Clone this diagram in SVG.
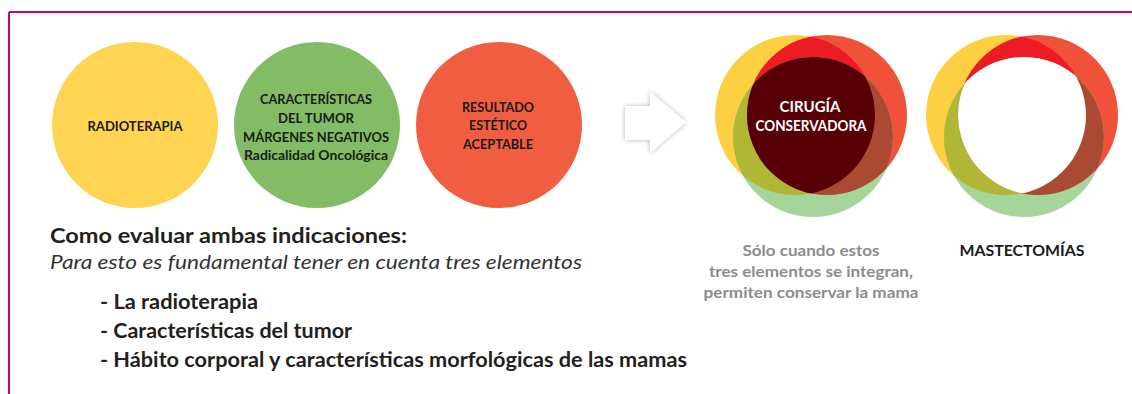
<svg xmlns="http://www.w3.org/2000/svg" width="1132" height="394" viewBox="0 0 1132 394">
<style>
.t{font-family:Lato,"Open Sans","Liberation Sans",sans-serif;font-weight:bold;text-anchor:middle;fill:#1a1a1a}
.c{font-size:14px}
.w{fill:#ffffff;font-size:15px}
.h{font-family:Lato,"Open Sans","Liberation Sans",sans-serif;fill:#231f20}
.b{font-size:20px;font-weight:bold}
.g{fill:#8c8c8c;font-size:16px}
</style>
<defs>
<filter id="sh" x="-30%" y="-30%" width="160%" height="160%">
<feGaussianBlur in="SourceAlpha" stdDeviation="2.5"/>
<feComponentTransfer><feFuncA type="linear" slope="0.3"/></feComponentTransfer>
<feMerge><feMergeNode/><feMergeNode in="SourceGraphic"/></feMerge>
</filter>
<clipPath id="clY1"><circle cx="795" cy="115" r="80"/></clipPath>
<clipPath id="clR1"><circle cx="827" cy="115" r="80"/></clipPath>
<clipPath id="clY2"><circle cx="1006" cy="115" r="80"/></clipPath>
<clipPath id="clR2"><circle cx="1038" cy="115" r="80"/></clipPath>
</defs>
<rect width="1132" height="394" fill="#ffffff"/>
<g id="frame" stroke="#c8086c" stroke-width="2" fill="none">
<line x1="9" y1="12" x2="1132" y2="12"/>
<line x1="9" y1="12" x2="9" y2="394"/>
</g>
<g id="node-radioterapia">
<circle cx="135" cy="125" r="83" fill="#fed452"/>
<text class="t c" x="135" y="131" textLength="95" lengthAdjust="spacingAndGlyphs">RADIOTERAPIA</text>
</g>
<g id="node-tumor">
<circle cx="317" cy="125" r="83" fill="#82bc65"/>
<text class="t c" x="316" y="104" textLength="112" lengthAdjust="spacingAndGlyphs">CARACTERÍSTICAS</text>
<text class="t c" x="316" y="123" textLength="76" lengthAdjust="spacingAndGlyphs">DEL TUMOR</text>
<text class="t c" x="316" y="142" textLength="146" lengthAdjust="spacingAndGlyphs">MÁRGENES NEGATIVOS</text>
<text class="t c" x="316" y="160" textLength="144" lengthAdjust="spacingAndGlyphs">Radicalidad Oncológica</text>
</g>
<g id="node-resultado">
<circle cx="499" cy="125" r="83" fill="#f15d41"/>
<text class="t c" x="498" y="112" textLength="72" lengthAdjust="spacingAndGlyphs">RESULTADO</text>
<text class="t c" x="498" y="130" textLength="58" lengthAdjust="spacingAndGlyphs">ESTÉTICO</text>
<text class="t c" x="498" y="149" textLength="70" lengthAdjust="spacingAndGlyphs">ACEPTABLE</text>
</g>
<g id="connectors">
<polygon points="625,106 650,106 650,92 686,122 650,153 650,140 625,140" fill="#ffffff" filter="url(#sh)"/>
</g>
<g id="node-cirugia">
<circle cx="795" cy="115" r="80" fill="#fdd043"/>
<circle cx="827" cy="115" r="80" fill="#f05239"/>
<circle cx="813" cy="137" r="80" fill="#a6d59b"/>
<circle cx="827" cy="115" r="80" fill="#ed1c24" clip-path="url(#clY1)"/>
<circle cx="813" cy="137" r="80" fill="#b0b734" clip-path="url(#clY1)"/>
<circle cx="813" cy="137" r="80" fill="#ab4a32" clip-path="url(#clR1)"/>
<g clip-path="url(#clY1)"><circle cx="813" cy="137" r="80" fill="#560006" clip-path="url(#clR1)"/></g>
<text class="t w" x="810" y="112" style="fill:#ffffff" textLength="61" lengthAdjust="spacingAndGlyphs">CIRUGÍA</text>
<text class="t w" x="811" y="131" style="fill:#ffffff" textLength="111" lengthAdjust="spacingAndGlyphs">CONSERVADORA</text>
<text class="t g" x="811" y="256" textLength="137" lengthAdjust="spacingAndGlyphs">Sólo cuando estos</text>
<text class="t g" x="811" y="277" textLength="204" lengthAdjust="spacingAndGlyphs">tres elementos se integran,</text>
<text class="t g" x="811" y="298" textLength="215" lengthAdjust="spacingAndGlyphs">permiten conservar la mama</text>
</g>
<g id="node-mastectomias">
<circle cx="1006" cy="115" r="80" fill="#fdd043"/>
<circle cx="1038" cy="115" r="80" fill="#f05239"/>
<circle cx="1024" cy="137" r="80" fill="#a6d59b"/>
<circle cx="1038" cy="115" r="80" fill="#ed1c24" clip-path="url(#clY2)"/>
<circle cx="1024" cy="137" r="80" fill="#b0b734" clip-path="url(#clY2)"/>
<circle cx="1024" cy="137" r="80" fill="#ab4a32" clip-path="url(#clR2)"/>
<g clip-path="url(#clY2)"><circle cx="1024" cy="137" r="80" fill="#ffffff" clip-path="url(#clR2)"/></g>
<text class="t" x="1022" y="256" font-size="16" textLength="125" lengthAdjust="spacingAndGlyphs">MASTECTOMÍAS</text>
</g>
<g id="text-block">
<text class="h" x="50" y="243" font-size="21" font-weight="bold" textLength="357" lengthAdjust="spacingAndGlyphs">Como evaluar ambas indicaciones:</text>
<text class="h" x="50" y="269" font-size="19" font-style="italic" style="fill:#333333" textLength="532" lengthAdjust="spacingAndGlyphs">Para esto es fundamental tener en cuenta tres elementos</text>
<text class="h b" x="100" y="309" textLength="158" lengthAdjust="spacingAndGlyphs">- La radioterapia</text>
<text class="h b" x="100" y="338" textLength="252" lengthAdjust="spacingAndGlyphs">- Características del tumor</text>
<text class="h b" x="100" y="367" textLength="587" lengthAdjust="spacingAndGlyphs">- Hábito corporal y características morfológicas de las mamas</text>
</g>
</svg>
